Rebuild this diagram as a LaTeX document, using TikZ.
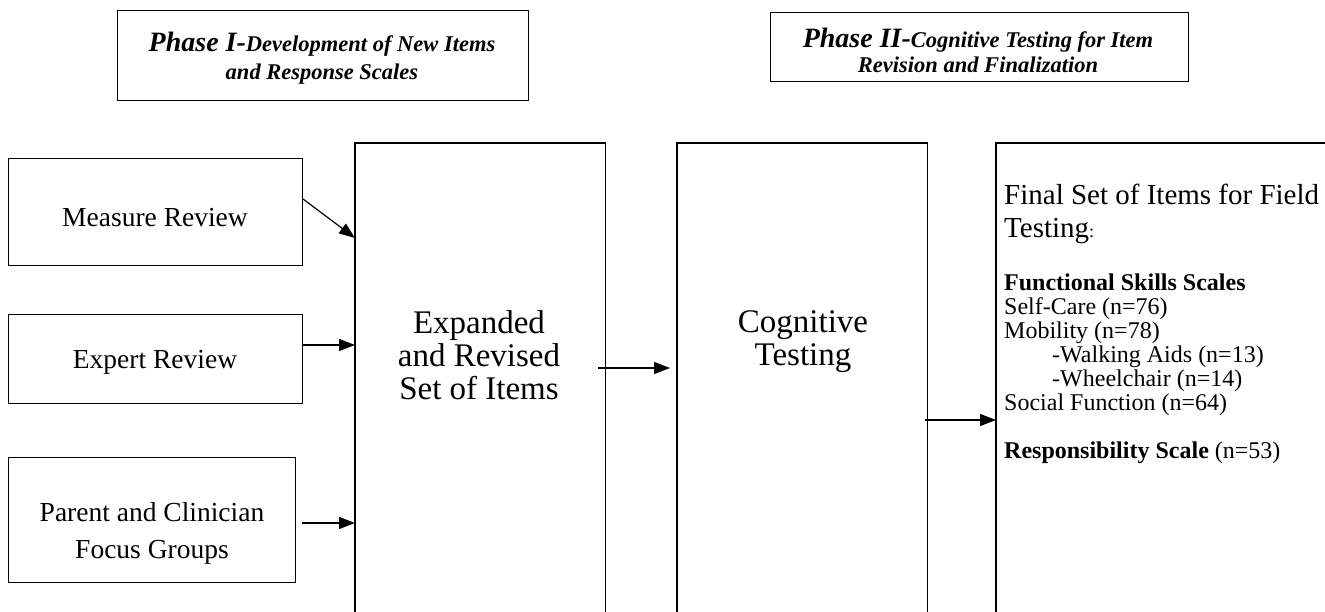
\documentclass[tikz,border=0pt]{standalone}
\usepackage{fontspec}
\setmainfont{Liberation Serif}
\usetikzlibrary{arrows.meta}
\begin{document}
\begin{tikzpicture}[x=1pt,y=-1pt,
  box/.style={draw, line width=1.2pt, inner sep=0pt},
  hollow/.style={inner sep=0pt},
  edge/.style={line width=1.2pt},
  arr/.style={-{Triangle[length=16pt,width=12pt]}, line width=1.2pt},
  lbl/.style={font=\fontsize{27.5}{37}\selectfont, align=center, inner sep=0pt},
  big/.style={font=\fontsize{33}{33}\selectfont, align=center, inner sep=0pt},
  phase/.style={font=\fontsize{22.5}{28}\selectfont\bfseries\itshape, align=center, inner sep=0pt},
  head/.style={font=\fontsize{29}{33}\selectfont, align=left, inner sep=0pt, anchor=north west},
  list/.style={font=\fontsize{24}{24}\selectfont, align=left, inner sep=0pt, anchor=north west}
]
\useasboundingbox (0,0) rectangle (1325,612);

% phase headers
\node[box, minimum width=411, minimum height=90, anchor=north west] (ph1) at (117,10) {};
\node[phase] (ph1T) at (322,58) {{\fontsize{28}{28}\selectfont Phase I-}Development of New Items\\and Response Scales};
\node[box, minimum width=418, minimum height=69, anchor=north west] (ph2) at (770,12) {};
\node[phase, font=\fontsize{22.5}{25}\selectfont\bfseries\itshape] (ph2T) at (978,50) {{\fontsize{28}{25}\selectfont Phase II-}Cognitive Testing for Item\\Revision and Finalization};

% left boxes
\node[box, minimum width=294, minimum height=107, anchor=north west] (meas) at (8,158) {};
\node[lbl] (measT) at (155,218) {Measure Review};
\node[box, minimum width=294, minimum height=89, anchor=north west] (expr) at (8,314) {};
\node[lbl] (exprT) at (155,362) {Expert Review};
\node[box, minimum width=287, minimum height=125, anchor=north west] (par) at (8,457) {};
\node[lbl] (parT) at (152,533) {Parent and Clinician\\Focus Groups};

% tall open boxes
\node[hollow, minimum width=250, minimum height=469, anchor=north west] (exp) at (355,143) {};
\draw[edge] (exp.south west) -- (exp.north west) -- (exp.north east) -- (exp.south east);
\node[big] (expT) at (479,355) {Expanded\\and Revised\\Set of Items};

\node[hollow, minimum width=250, minimum height=469, anchor=north west] (cog) at (677,143) {};
\draw[edge] (cog.south west) -- (cog.north west) -- (cog.north east) -- (cog.south east);
\node[big] (cogT) at (803,342) {Cognitive\\Testing};

\node[hollow, minimum width=340, minimum height=469, anchor=north west] (fin) at (996,143) {};
\draw[edge] (fin.south west) -- (fin.north west) -- (fin.north east);
\node[head] (finH) at (1004,184) {Final Set of Items for Field\\Testing{\fontsize{18}{33}\selectfont:}};
\node[list] (finL) at (1004,274) {\textbf{Functional Skills Scales}\\
Self-Care (n=76)\\
Mobility (n=78)\\
\hspace{48pt}-Walking Aids (n=13)\\
\hspace{48pt}-Wheelchair (n=14)\\
Social Function (n=64)\\[24pt]
\textbf{Responsibility Scale} (n=53)};

% connector end points
\coordinate (in1) at (355,238);
\coordinate (in2) at (355,345);
\coordinate (in3) at (355,523);
\coordinate (o2) at (302,345);
\coordinate (o3) at (302,523);
\coordinate (ecA) at (598,368);
\coordinate (ecB) at (670,368);
\coordinate (cfA) at (925,420);
\coordinate (cfB) at (996,420);

% connectors
\draw[arr] ([yshift=13pt]meas.east) -- (in1);
\draw[arr] (o2) -- (in2);
\draw[arr] (o3) -- (in3);
\draw[arr] (ecA) -- (ecB);
\draw[arr] (cfA) -- (cfB);
\end{tikzpicture}
\end{document}
